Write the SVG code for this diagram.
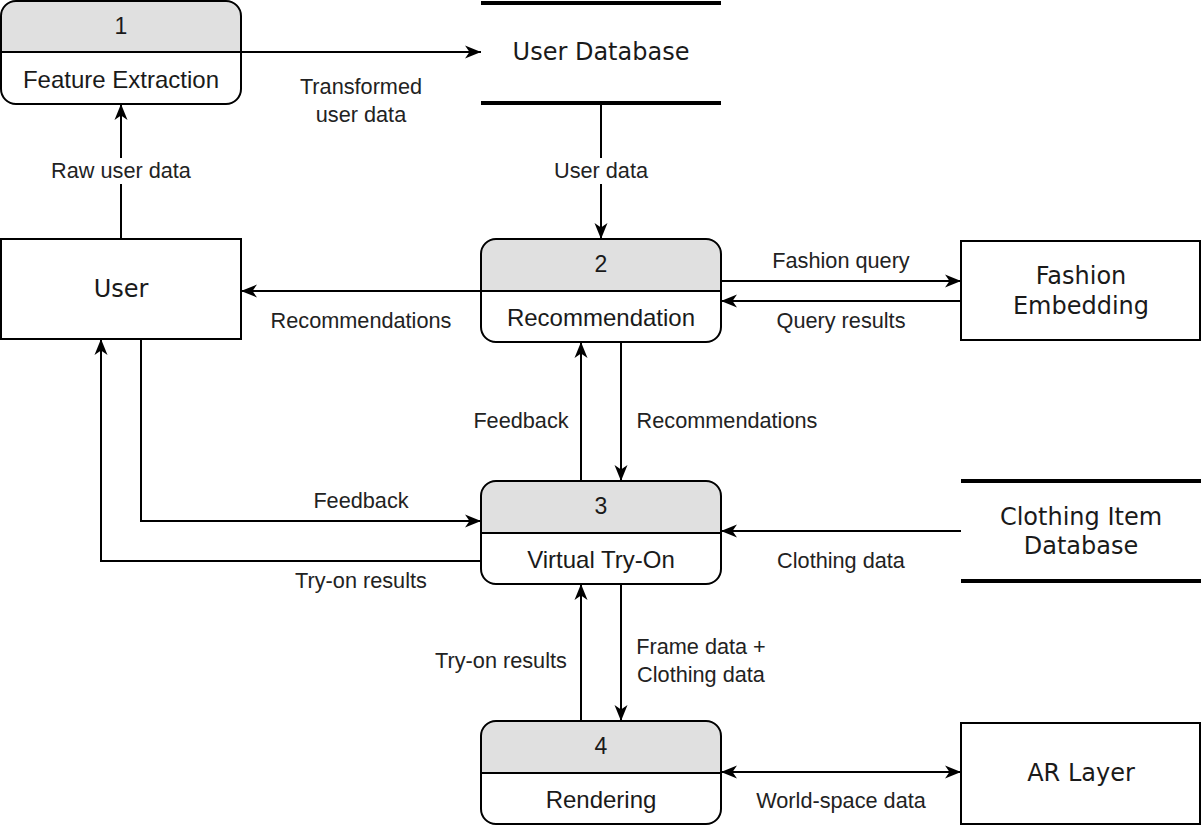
<svg xmlns="http://www.w3.org/2000/svg" width="1204" height="832" viewBox="0 0 1204 832">
<style>
.proc{fill:#fff;stroke:#000;stroke-width:2}
.hdr{fill:#e0e0e0}
.ln{fill:none;stroke:#000;stroke-width:2}
.ext{fill:#fff;stroke:#000;stroke-width:2}
.store{stroke:#000;stroke-width:4}
.num{font-family:"Liberation Sans",Arial,sans-serif;font-size:23px;fill:#1a1a1a;text-anchor:middle}
.plab{font-family:"Liberation Sans",Arial,sans-serif;font-size:24px;fill:#1a1a1a;text-anchor:middle}
.big{font-family:"DejaVu Sans",sans-serif;font-size:24px;fill:#1a1a1a;text-anchor:middle}
.el{font-family:"Liberation Sans",Arial,sans-serif;font-size:21.7px;fill:#222;text-anchor:middle}
.bg{fill:#fff}
</style>
<defs>
<marker id="arr" markerUnits="userSpaceOnUse" markerWidth="18" markerHeight="16" refX="16" refY="8" orient="auto-start-reverse">
<path d="M0,1.5 L16,8 L0,14.5 L4.5,8 Z" fill="#000"/>
</marker>
</defs>

<g id="node1">
<path class="hdr" d="M1,52 V16 Q1,1 16,1 H226 Q241,1 241,16 V52 Z"/>
<rect class="proc" x="1" y="1" width="240" height="103" rx="15" ry="15" style="fill:none"/>
<line class="ln" x1="1" y1="52" x2="241" y2="52"/>
<text class="num" x="121" y="34">1</text>
<text class="plab" x="121" y="88">Feature Extraction</text>
</g>

<g id="node2">
<path class="hdr" d="M481,291 V254 Q481,239 496,239 H706 Q721,239 721,254 V291 Z"/>
<rect class="proc" x="481" y="239" width="240" height="103" rx="15" ry="15" style="fill:none"/>
<line class="ln" x1="481" y1="291" x2="721" y2="291"/>
<text class="num" x="601" y="272">2</text>
<text class="plab" x="601" y="326">Recommendation</text>
</g>

<g id="node3">
<path class="hdr" d="M481,533 V496 Q481,481 496,481 H706 Q721,481 721,496 V533 Z"/>
<rect class="proc" x="481" y="481" width="240" height="103" rx="15" ry="15" style="fill:none"/>
<line class="ln" x1="481" y1="533" x2="721" y2="533"/>
<text class="num" x="601" y="514">3</text>
<text class="plab" x="601" y="568">Virtual Try-On</text>
</g>

<g id="node4">
<path class="hdr" d="M481,773 V736 Q481,721 496,721 H706 Q721,721 721,736 V773 Z"/>
<rect class="proc" x="481" y="721" width="240" height="103" rx="15" ry="15" style="fill:none"/>
<line class="ln" x1="481" y1="773" x2="721" y2="773"/>
<text class="num" x="601" y="754">4</text>
<text class="plab" x="601" y="808">Rendering</text>
</g>

<g id="user">
<rect class="ext" x="1" y="239" width="240" height="100"/>
<text class="big" x="121" y="297">User</text>
</g>

<g id="userdb">
<line class="store" x1="481" y1="3" x2="721" y2="3"/>
<line class="store" x1="481" y1="103" x2="721" y2="103"/>
<text class="big" x="601" y="60">User Database</text>
</g>

<g id="fashion">
<rect class="ext" x="961" y="241" width="239" height="99"/>
<text class="big" x="1081" y="284">Fashion</text>
<text class="big" x="1081" y="314">Embedding</text>
</g>

<g id="clothingdb">
<line class="store" x1="961" y1="481" x2="1201" y2="481"/>
<line class="store" x1="961" y1="581" x2="1201" y2="581"/>
<text class="big" x="1081" y="525">Clothing Item</text>
<text class="big" x="1081" y="554">Database</text>
</g>

<g id="arlayer">
<rect class="ext" x="961" y="723" width="239" height="101"/>
<text class="big" x="1081" y="781">AR Layer</text>
</g>

<g id="connectors">
<line class="ln" x1="241" y1="52" x2="481" y2="52" marker-end="url(#arr)"/>
<line class="ln" x1="601" y1="105" x2="601" y2="239" marker-end="url(#arr)"/>
<line class="ln" x1="121" y1="239" x2="121" y2="104" marker-end="url(#arr)"/>
<line class="ln" x1="481" y1="291" x2="241" y2="291" marker-end="url(#arr)"/>
<line class="ln" x1="721" y1="281" x2="961" y2="281" marker-end="url(#arr)"/>
<line class="ln" x1="961" y1="301" x2="721" y2="301" marker-end="url(#arr)"/>
<line class="ln" x1="581" y1="481" x2="581" y2="342" marker-end="url(#arr)"/>
<line class="ln" x1="621" y1="342" x2="621" y2="481" marker-end="url(#arr)"/>
<polyline class="ln" points="141,339 141,521 481,521" marker-end="url(#arr)"/>
<polyline class="ln" points="481,561 101,561 101,339" marker-end="url(#arr)"/>
<line class="ln" x1="961" y1="531" x2="721" y2="531" marker-end="url(#arr)"/>
<line class="ln" x1="581" y1="721" x2="581" y2="584" marker-end="url(#arr)"/>
<line class="ln" x1="621" y1="584" x2="621" y2="721" marker-end="url(#arr)"/>
<line class="ln" x1="721" y1="772" x2="961" y2="772" marker-start="url(#arr)" marker-end="url(#arr)"/>

<rect class="bg" x="48" y="158" width="146" height="26"/>
<rect class="bg" x="551" y="158" width="100" height="26"/>

<text class="el" x="361" y="94">Transformed</text>
<text class="el" x="361" y="122">user data</text>
<text class="el" x="601" y="178">User data</text>
<text class="el" x="121" y="178">Raw user data</text>
<text class="el" x="361" y="328">Recommendations</text>
<text class="el" x="841" y="268">Fashion query</text>
<text class="el" x="841" y="328">Query results</text>
<text class="el" x="521" y="428">Feedback</text>
<text class="el" x="727" y="428">Recommendations</text>
<text class="el" x="361" y="508">Feedback</text>
<text class="el" x="361" y="588">Try-on results</text>
<text class="el" x="841" y="568">Clothing data</text>
<text class="el" x="501" y="668">Try-on results</text>
<text class="el" x="701" y="654">Frame data +</text>
<text class="el" x="701" y="682">Clothing data</text>
<text class="el" x="841" y="808">World-space data</text>
</g>
</svg>
